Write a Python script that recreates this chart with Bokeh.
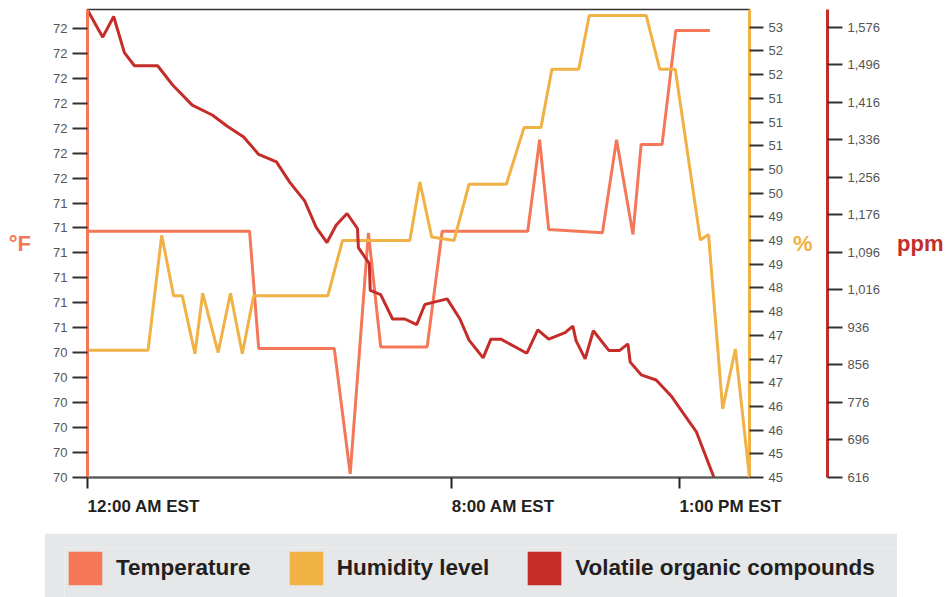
from bokeh.plotting import figure
from bokeh.layouts import column
from bokeh.models import (Range1d, LinearAxis, FixedTicker, NumeralTickFormatter,
                          Legend, LegendItem)
from bokeh.embed import file_html
from bokeh.resources import INLINE

# ---------------- data ----------------
series_names = ["Temperature", "Humidity level", "Volatile organic compounds"]

# hours after midnight (EST)
temp_time = [0, 3.56, 3.76, 5.42, 5.77, 6.17, 6.44, 7.46, 7.79, 9.67, 9.93, 10.13,
             11.31, 11.62, 11.98, 12.16, 12.62, 12.92, 13.67]
temp_f = [71.2, 71.2, 70.47, 70.47, 69.69, 71.19, 70.48, 70.48, 71.2, 71.2, 71.77, 71.21,
          71.19, 71.77, 71.18, 71.74, 71.74, 72.45, 72.45]

hum_time = [0, 1.33, 1.63, 1.89, 2.08, 2.36, 2.53, 2.87, 3.14, 3.40, 3.65, 5.28, 5.60,
            7.08, 7.30, 7.56, 8.05, 8.38, 9.20, 9.59, 9.96, 10.20, 10.79, 11.02, 12.27,
            12.57, 12.91, 13.46, 13.64, 13.95, 14.23, 14.54]
hum_pct = [47.15, 47.15, 49.09, 48.07, 48.07, 47.09, 48.11, 47.11, 48.11, 47.09, 48.07,
           48.07, 49.0, 49.0, 49.99, 49.06, 49.0, 49.95, 49.95, 50.91, 50.91, 51.89, 51.89,
           52.8, 52.8, 51.89, 51.89, 49.01, 49.1, 46.16, 47.17, 45.0]

voc_time = [0, 0.335, 0.575, 0.81, 1.03, 1.54, 1.87, 2.30, 2.74, 3.07, 3.43, 3.76, 4.15,
            4.44, 4.77, 5.02, 5.26, 5.46, 5.70, 5.93, 5.95, 6.19, 6.21, 6.44, 6.70, 6.97,
            7.23, 7.41, 7.61, 7.90, 8.18, 8.38, 8.69, 8.86, 9.08, 9.65, 9.89, 10.13, 10.49,
            10.66, 10.73, 10.93, 11.11, 11.45, 11.69, 11.87, 11.92, 12.16, 12.49, 12.82,
            13.08, 13.37, 13.76]
voc_ppm = [1613, 1555, 1599, 1522, 1494, 1494, 1453, 1410, 1389, 1365, 1342, 1305, 1289,
           1246, 1206, 1150, 1117, 1154, 1179, 1147, 1106, 1072, 1015, 1006, 954, 954,
           942, 985, 990, 997, 954, 909, 871, 911, 911, 881, 931, 911, 925,
           939, 908, 869, 929, 887, 887, 901, 862, 835, 824, 790,
           754, 714, 616]

x_tick_hours = [0, 8, 13]
x_tick_labels = ["12:00 AM EST", "8:00 AM EST", "1:00 PM EST"]

temp_ticks = [69.670, 69.825, 69.980, 70.135, 70.290, 70.445, 70.600, 70.755, 70.910,
              71.065, 71.220, 71.375, 71.530, 71.685, 71.840, 71.995, 72.150, 72.305, 72.460]
hum_ticks = [45.0, 45.4, 45.8, 46.2, 46.6, 47.0, 47.4, 47.8, 48.2, 48.6, 49.0, 49.4,
             49.8, 50.2, 50.6, 51.0, 51.4, 51.8, 52.2, 52.6]
voc_ticks = [616, 696, 776, 856, 936, 1016, 1096, 1176, 1256, 1336, 1416, 1496, 1576]

# ---------------- styling ----------------
TEMP_C = "#f47857"
HUM_C = "#f0b145"
VOC_C = "#c42d28"
SANS = "Liberation Sans, Arial, sans-serif"
TICK_TXT = "#555555"
DARK_TXT = "#231f20"
LEGEND_BG = "#e6e7e9"

p = figure(width=946, height=533, output_backend="svg", toolbar_location=None,
           title=None,
           x_range=Range1d(0, 14.54), y_range=Range1d(69.667, 72.58),
           min_border_left=87, min_border_right=194, min_border_top=9,
           min_border_bottom=56)
p.frame_align = False
p.extra_y_ranges = {"hum": Range1d(45.0, 52.9), "voc": Range1d(616, 1614)}
p.xgrid.visible = False
p.ygrid.visible = False
p.outline_line_color = "#333333"
p.outline_line_width = 1.5
p.background_fill_color = "white"
p.border_fill_color = "white"

r_t = p.line(temp_time, temp_f, line_color=TEMP_C, line_width=3)
r_h = p.line(hum_time, hum_pct, line_color=HUM_C, line_width=3, y_range_name="hum")
r_v = p.line(voc_time, voc_ppm, line_color=VOC_C, line_width=3, y_range_name="voc")

# x axis
xa = p.xaxis[0]
xa.ticker = FixedTicker(ticks=x_tick_hours)
xa.major_label_overrides = dict(zip(x_tick_hours, x_tick_labels))
xa.major_label_orientation = -1e-6
xa.major_label_text_align = "left"
xa.major_label_text_font = SANS
xa.major_label_text_font_style = "bold"
xa.major_label_text_font_size = "17px"
xa.major_label_text_color = DARK_TXT
xa.major_label_standoff = 18
xa.axis_line_color = "#555555"
xa.axis_line_width = 2
xa.major_tick_line_color = "#222222"
xa.major_tick_line_width = 2
xa.major_tick_out = 11
xa.major_tick_in = 0
xa.minor_tick_line_color = None


def style_y(ax, color, label, standoff, label_standoff):
    ax.axis_line_color = color
    ax.axis_line_width = 3
    ax.major_tick_line_color = "#333333"
    ax.major_tick_line_width = 2
    ax.major_tick_out = 14
    ax.major_tick_in = 0
    ax.minor_tick_line_color = None
    ax.major_label_standoff = standoff
    ax.major_label_text_font = SANS
    ax.major_label_text_font_size = "13px"
    ax.major_label_text_color = TICK_TXT
    ax.axis_label = label
    ax.axis_label_orientation = "horizontal"
    ax.axis_label_text_font = SANS
    ax.axis_label_text_font_style = "bold"
    ax.axis_label_text_font_size = "22px"
    ax.axis_label_text_color = color
    ax.axis_label_standoff = label_standoff


ya = p.yaxis[0]
ya.ticker = FixedTicker(ticks=temp_ticks)
ya.formatter = NumeralTickFormatter(format="0")
style_y(ya, TEMP_C, "°F", 5, 19)
ya.major_tick_out = 15

ha = LinearAxis(y_range_name="hum", ticker=FixedTicker(ticks=hum_ticks),
                formatter=NumeralTickFormatter(format="0"))
style_y(ha, HUM_C, "%  ", 5, 7)
p.add_layout(ha, "right")

va = LinearAxis(y_range_name="voc", ticker=FixedTicker(ticks=voc_ticks),
                formatter=NumeralTickFormatter(format="0,0"))
style_y(va, VOC_C, "ppm", 5, 14)
va.major_tick_out = 15
p.add_layout(va, "right")

# ---------------- legend strip (grey box with square swatches) ----------------
lg = figure(width=853, height=64, output_backend="svg", toolbar_location=None,
            title=None, x_axis_type=None, y_axis_type=None,
            x_range=Range1d(0, 1), y_range=Range1d(0, 1),
            min_border_left=20, min_border_right=0, min_border_top=14,
            min_border_bottom=0, margin=(0, 0, 0, 44))
lg.frame_align = False
lg.background_fill_color = LEGEND_BG
lg.border_fill_color = LEGEND_BG
lg.outline_line_color = None

nan = float("nan")
swatches = []
for color in [TEMP_C, HUM_C, VOC_C]:
    swatches.append(lg.quad(left=[nan], right=[nan], top=[nan], bottom=[nan],
                            fill_color=color, line_color=None))

legend = Legend(
    items=[LegendItem(label=n, renderers=[r]) for n, r in zip(series_names, swatches)],
    orientation="horizontal", location="top_left", margin=0, padding=0,
    background_fill_alpha=0.0, border_line_color=None,
    glyph_width=42, glyph_height=42, label_standoff=10, spacing=34,
    label_text_font=SANS, label_text_font_style="bold",
    label_text_font_size="22.5px", label_text_color=DARK_TXT)
lg.add_layout(legend, "center")

layout = column(p, lg, spacing=0)
open("out.html", "w").write(file_html(layout, INLINE))
